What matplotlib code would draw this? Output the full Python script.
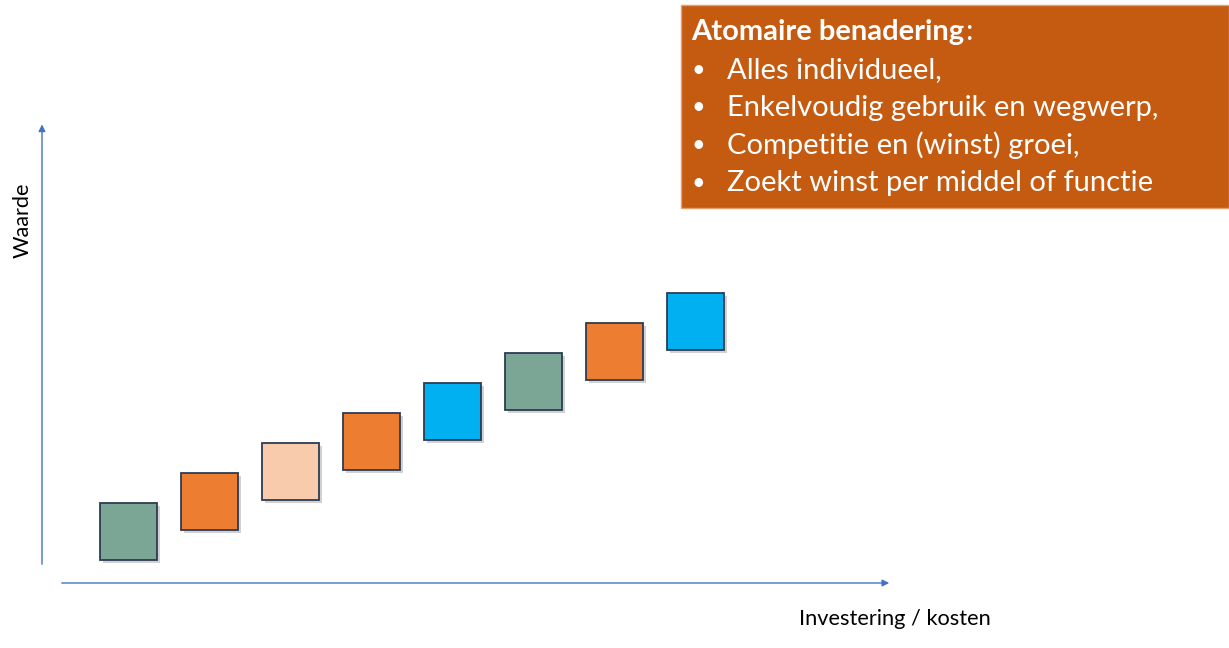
import matplotlib; matplotlib.use("Agg")
import matplotlib.pyplot as plt
from matplotlib.patches import Rectangle
from matplotlib.text import Annotation
import matplotlib.patheffects as pe

# stappen (investering) en waarde per blokje
stap = [1, 2, 3, 4, 5, 6, 7, 8]
waarde = [1, 2, 3, 4, 5, 6, 7, 8]
kleuren = ["#7BA695", "#ED7D31", "#F8CBAD", "#ED7D31", "#00B0F0", "#7BA695", "#ED7D31", "#00B0F0"]
titel = "Atomaire benadering"
punten = ["Alles individueel,", "Enkelvoudig gebruik en wegwerp,",
          "Competitie en (winst) groei,", "Zoekt winst per middel of functie"]
xlabel = "Investering / kosten"
ylabel = "Waarde"

W, H = 1229, 648
plt.rcParams["font.family"] = ["Lato", "DejaVu Sans"]
fig = plt.figure(figsize=(W / 100, H / 100), dpi=100)
ax = fig.add_axes([42 / W, 1 - 583 / H, 850 / W, 460 / H])
ax.set_xlim(-0.068, 10.426)
ax.set_ylim(-0.717, 14.617)
ax.axis("off")

bw, bh = 57 / 81, 57 / 30
for x, y, c in zip(stap, waarde, kleuren):
    r = Rectangle((x - bw / 2, y - bh / 2), bw, bh, facecolor=c, edgecolor="#2E3B52", lw=1.3, zorder=3)
    r.set_path_effects([pe.SimplePatchShadow(offset=(2.5, -2.5), shadow_rgbFace="#999999", alpha=0.45), pe.Normal()])
    ax.add_patch(r)

blauw = "#4472C4"
# assen als pijlen
ax.annotate("", xy=(0, 1.003), xytext=(0, (583 - 567) / 460), xycoords="axes fraction",
            arrowprops=dict(arrowstyle="-|>", color=blauw, lw=1, mutation_scale=10))
ax.annotate("", xy=(1.0, 0), xytext=(17 / 850, 0), xycoords="axes fraction",
            arrowprops=dict(arrowstyle="-|>", color=blauw, lw=1, mutation_scale=10))

fig.text(895 / W, 1 - 619 / H, xlabel, fontsize=15.7, ha="center", va="center")
fig.text(23 / W, 1 - 220 / H, ylabel, fontsize=15.7, ha="center", va="center", rotation=90)

# tekstvak
fig.patches.append(Rectangle((681 / W, 1 - 208 / H), (W - 681) / W, 203 / H,
                             transform=fig.transFigure, facecolor="#C55A11", edgecolor="#E0A070", lw=1))
fs = 21
t = fig.text(691 / W, 1 - 32 / H, titel, fontsize=fs, fontweight="bold", color="white", va="center")
fig.add_artist(Annotation(":", xy=(1, 0), xycoords=t, xytext=(1, 0), textcoords="offset points",
                          fontsize=fs, color="white", va="bottom", ha="left", annotation_clip=False))
for i, p in enumerate(punten):
    yy = 1 - (70 + i * 37.7) / H
    fig.text(692 / W, yy, "•", fontsize=fs * 0.8, color="white", va="center")
    fig.text(727 / W, yy, p, fontsize=fs, color="white", va="center")

fig.savefig("out.png", dpi=100)
